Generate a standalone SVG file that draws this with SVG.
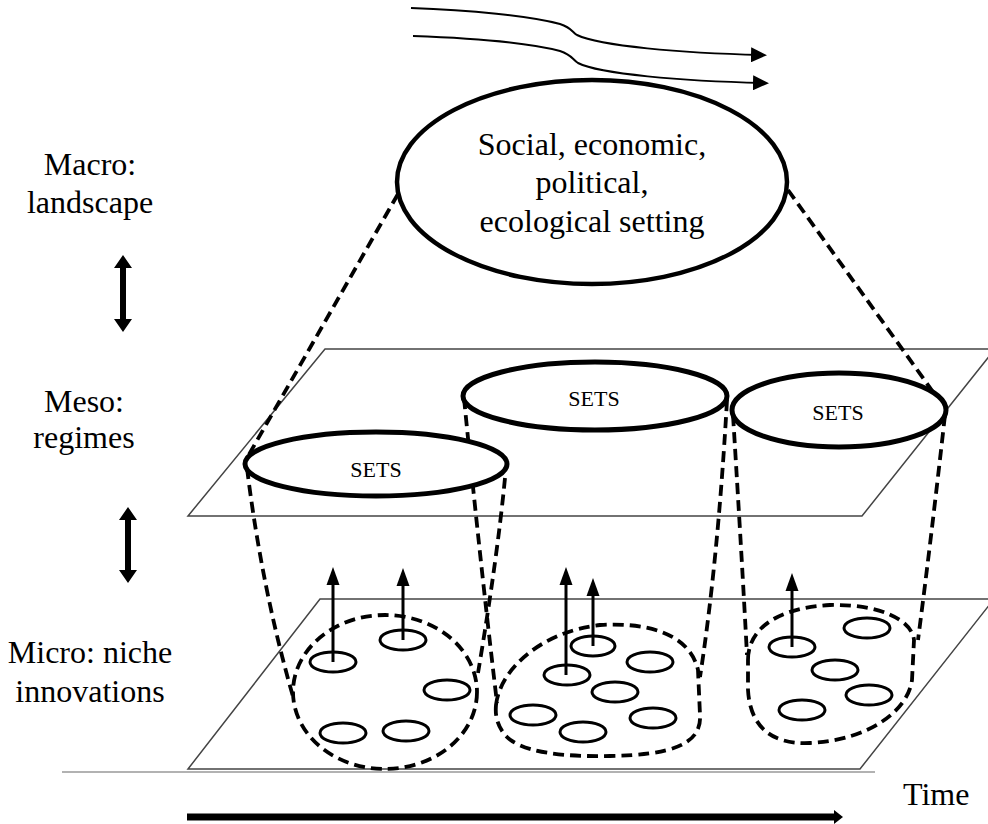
<svg xmlns="http://www.w3.org/2000/svg" width="988" height="824" viewBox="0 0 988 824">
<style>
.lbl{font-size:32px;text-anchor:middle;}
.sets{font-size:22px;text-anchor:middle;}
.plane{fill:none;stroke:#444;stroke-width:1.5;}
.dash{fill:none;stroke:#000;stroke-width:3.8;stroke-dasharray:11 6;}
.setsE{fill:#fff;stroke:#000;stroke-width:5;}
.niche{fill:#fff;stroke:#000;stroke-width:3;}
.up{stroke:#000;stroke-width:3;marker-end:url(#ah);}
.flow{fill:none;stroke:#000;stroke-width:2;marker-end:url(#fh);}
</style>
<defs>
<marker id="ah" markerUnits="userSpaceOnUse" markerWidth="18" markerHeight="14" refX="12" refY="6.5" orient="auto" viewBox="0 0 18 13">
<path d="M0,0 L18,6.5 L0,13 z" fill="#000"/>
</marker>
<marker id="fh" markerUnits="userSpaceOnUse" markerWidth="16" markerHeight="15" refX="10" refY="7.5" orient="auto" viewBox="0 0 16 15">
<path d="M0,0 L16,7.5 L0,15 z" fill="#000"/>
</marker>
</defs>
<rect width="988" height="824" fill="#fff"/>

<g id="planes">
<polygon class="plane" points="325,349 995,349 862,516 188,516"/>
<polygon class="plane" points="320,599 994,599 860,769 188,769"/>
<line x1="62" y1="772" x2="875" y2="772" stroke="#999" stroke-width="1.5"/>
</g>

<g id="landscape-flows">
<path class="flow" d="M411,8 C470,10 530,16 560,24 C572,28 572,32 577,35 C600,46 680,53 761,55"/>
<path class="flow" d="M413,36 C470,38 530,43 560,51 C572,55 572,59 578,63 C600,74 680,81 763,83"/>
</g>

<g id="connectors">
<line class="dash" x1="398" y1="194" x2="247" y2="458"/>
<line class="dash" x1="788" y1="190" x2="946" y2="410"/>
<path class="dash" d="M247,468 Q262,590 294,700"/>
<path class="dash" d="M505,478 Q497,560 478,673"/>
<path class="dash" d="M464,398 Q480,560 497,703"/>
<path class="dash" d="M727,400 Q718,560 700,677"/>
<path class="dash" d="M733,415 Q742,560 747,655"/>
<path class="dash" d="M945,415 Q931,540 918,640"/>
</g>

<g font-family="'Liberation Serif', 'DejaVu Serif', 'Times New Roman', serif" fill="#000">
<g id="macro">
<ellipse cx="592" cy="182" rx="195" ry="102" fill="#fff" stroke="#000" stroke-width="4.5"/>
<text class="lbl" x="592" y="155">Social, economic,</text>
<text class="lbl" x="592" y="193">political,</text>
<text class="lbl" x="592" y="232">ecological setting</text>
</g>

<g id="sets1">
<ellipse class="setsE" cx="376" cy="464" rx="131" ry="32"/>
<text class="sets" x="376" y="477">SETS</text>
</g>
<g id="sets2">
<ellipse class="setsE" cx="595" cy="396" rx="132" ry="34"/>
<text class="sets" x="594" y="406">SETS</text>
</g>
<g id="sets3">
<ellipse class="setsE" cx="839" cy="410" rx="107" ry="37"/>
<text class="sets" x="838" y="420">SETS</text>
</g>

<g id="niche1">
<ellipse class="dash" cx="385" cy="692" rx="92" ry="77"/>
<ellipse class="niche" cx="333" cy="662" rx="23" ry="10"/>
<ellipse class="niche" cx="403" cy="640" rx="23" ry="10"/>
<ellipse class="niche" cx="447" cy="690" rx="23" ry="10"/>
<ellipse class="niche" cx="343" cy="733" rx="23" ry="10"/>
<ellipse class="niche" cx="406" cy="731" rx="23" ry="10"/>
<line class="up" x1="333" y1="662" x2="333" y2="573"/>
<line class="up" x1="403" y1="640" x2="403" y2="574"/>
</g>

<g id="niche2">
<path class="dash" d="M496,705 C500,670 540,632 600,625 C650,622 690,635 698,670 L700,715 C702,745 670,755 610,756 C560,757 520,752 505,735 C497,725 495,715 496,705 Z"/>
<ellipse class="niche" cx="593" cy="646" rx="22" ry="10"/>
<ellipse class="niche" cx="567" cy="675" rx="23" ry="10"/>
<ellipse class="niche" cx="650" cy="662" rx="23" ry="10"/>
<ellipse class="niche" cx="615" cy="692" rx="23" ry="10"/>
<ellipse class="niche" cx="533" cy="715" rx="23" ry="10"/>
<ellipse class="niche" cx="653" cy="718" rx="23" ry="10"/>
<ellipse class="niche" cx="583" cy="732" rx="23" ry="10"/>
<line class="up" x1="566" y1="675" x2="566" y2="573"/>
<line class="up" x1="593" y1="646" x2="593" y2="584"/>
</g>

<g id="niche3">
<path class="dash" d="M748,660 C748,630 775,608 830,605 C880,604 912,620 914,640 L912,680 C908,710 870,740 810,743 C770,745 750,725 748,690 Z"/>
<ellipse class="niche" cx="792" cy="647" rx="23" ry="10"/>
<ellipse class="niche" cx="867" cy="628" rx="23" ry="10"/>
<ellipse class="niche" cx="835" cy="670" rx="23" ry="10"/>
<ellipse class="niche" cx="869" cy="695" rx="23" ry="10"/>
<ellipse class="niche" cx="802" cy="710" rx="23" ry="10"/>
<line class="up" x1="792" y1="647" x2="792" y2="579"/>
</g>

<g id="levels">
<text class="lbl" x="90" y="175">Macro:</text>
<text class="lbl" x="90" y="213">landscape</text>
<text class="lbl" x="84" y="412">Meso:</text>
<text class="lbl" x="84" y="448">regimes</text>
<text class="lbl" x="90" y="663">Micro: niche</text>
<text class="lbl" x="90" y="702">innovations</text>
<polygon points="123,255 132,268 126,268 126,319 132,319 123,332 114,319 120,319 120,268 114,268" fill="#000"/>
<polygon points="128,507 137,520 131,520 131,570 137,570 128,583 119,570 125,570 125,520 119,520" fill="#000"/>
</g>

<g id="time">
<rect x="187" y="813.5" width="649" height="7" fill="#000"/>
<polygon points="834,810 843,817 834,824" fill="#000"/>
<text x="903" y="805" font-size="32">Time</text>
</g>
</g>
</svg>
